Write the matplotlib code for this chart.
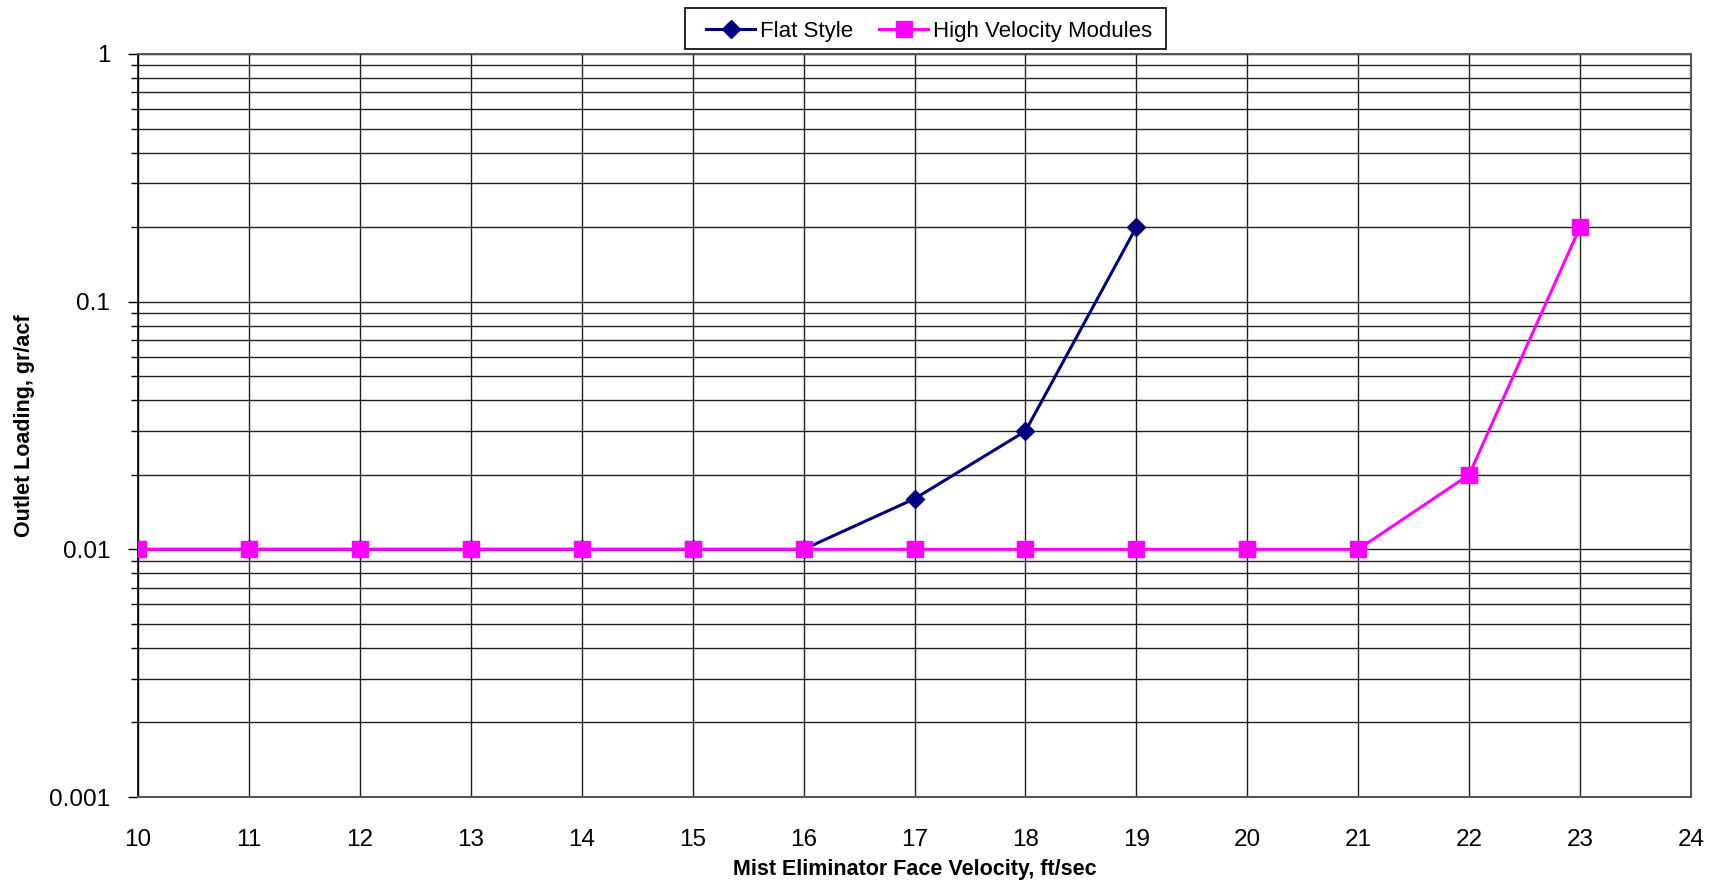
import matplotlib
matplotlib.use("Agg")
import matplotlib.pyplot as plt
from matplotlib.patches import Rectangle
from matplotlib.ticker import LogLocator, FixedLocator, NullFormatter, FixedFormatter

plt.rcParams['font.family'] = ['Liberation Sans', 'DejaVu Sans']

flat_x = [10, 11, 12, 13, 14, 15, 16, 17, 18, 19]
flat_y = [0.01, 0.01, 0.01, 0.01, 0.01, 0.01, 0.01, 0.016, 0.03, 0.2]
hv_x = [10, 11, 12, 13, 14, 15, 16, 17, 18, 19, 20, 21, 22, 23]
hv_y = [0.01, 0.01, 0.01, 0.01, 0.01, 0.01, 0.01, 0.01, 0.01, 0.01, 0.01, 0.01, 0.02, 0.2]
x_ticks = list(range(10, 25))
y_ticks = [0.001, 0.01, 0.1, 1]
y_tick_labels = ["0.001", "0.01", "0.1", "1"]

W, H = 1710, 880
fig = plt.figure(figsize=(W / 100, H / 100), dpi=100)
L, R, T, B = 138, 1691, 54, 797
ax = fig.add_axes([L / W, 1 - B / H, (R - L) / W, (B - T) / H])

ax.plot(flat_x, flat_y, color='#000080', lw=2.2, marker='D', markersize=9.5,
        label='Flat Style', zorder=3)
ax.plot(hv_x, hv_y, color='#FF00FF', lw=2.2, marker='s', markersize=11,
        label='High Velocity Modules', zorder=4)

ax.set_yscale('log')
ax.set_xlim(10, 24)
ax.set_ylim(0.001, 1)

ax.xaxis.set_major_locator(FixedLocator(x_ticks))
ax.set_xticklabels([str(v) for v in x_ticks])
ax.yaxis.set_major_locator(FixedLocator(y_ticks))
ax.yaxis.set_major_formatter(FixedFormatter(y_tick_labels))
ax.yaxis.set_minor_locator(LogLocator(base=10, subs=range(2, 10)))
ax.yaxis.set_minor_formatter(NullFormatter())

ax.grid(True, which='major', axis='both', color='#222222', lw=1.0)
ax.grid(True, which='minor', axis='y', color='#222222', lw=1.0)
ax.set_axisbelow(True)

ax.tick_params(axis='x', length=0, pad=23, labelsize=17.5)
ax.tick_params(axis='y', which='major', direction='out', length=7, width=1, pad=13, labelsize=17.5)
ax.tick_params(axis='y', which='minor', direction='out', length=5, width=1)

for s in ['top', 'right', 'bottom']:
    ax.spines[s].set_color('#555555')
    ax.spines[s].set_linewidth(1.5)
ax.spines['left'].set_color('black')
ax.spines['left'].set_linewidth(1.2)

ax.set_xlabel('Mist Eliminator Face Velocity, ft/sec', fontsize=15.5, fontweight='bold', labelpad=6)
ax.set_ylabel('Outlet Loading, gr/acf', fontsize=15.5, fontweight='bold', labelpad=10)

# legend frame drawn as a box in figure pixels
fig.patches.append(Rectangle((685 / W, 1 - 49 / H), 481 / W, 41 / H,
                             transform=fig.transFigure, facecolor='white',
                             edgecolor='black', lw=1.2, zorder=0))
fig.legend(loc='center', bbox_to_anchor=(929 / W, 1 - 31 / H), ncol=2,
           fontsize=16, frameon=False, borderpad=0, borderaxespad=0,
           handlelength=2.2, handletextpad=0.2, columnspacing=1.2)

fig.savefig('out.png', dpi=100)
